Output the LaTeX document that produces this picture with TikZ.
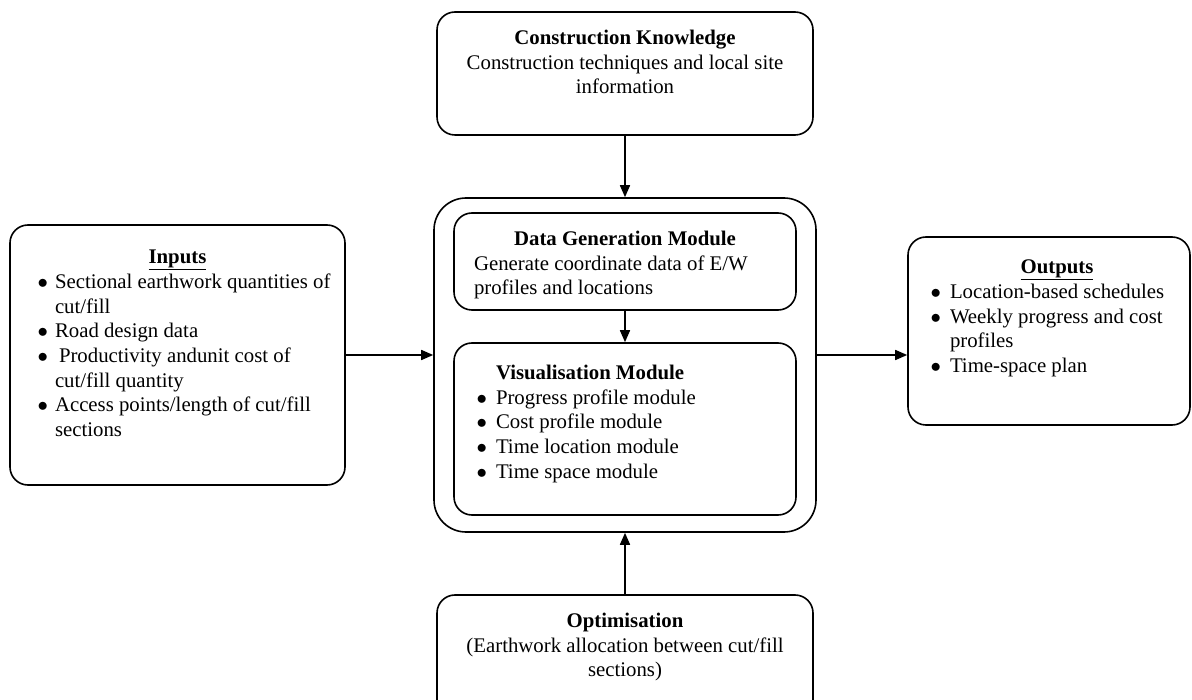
\documentclass[tikz,border=0pt]{standalone}
\usepackage{fontspec}
\setmainfont{Liberation Serif}
\usepackage{enumitem}
\usetikzlibrary{arrows.meta}
\setlist[itemize]{nosep,label=$\bullet$}
\newcommand{\inbox}[3]{\begin{minipage}[t][#2][t]{#1}#3\end{minipage}}

\begin{document}
\begin{tikzpicture}[x=1pt,y=-1pt,
  box/.style={draw,line width=1.6pt,rounded corners=18pt,inner xsep=0pt,
    font=\fontsize{20.8}{24.7}\selectfont},
  flow/.style={line width=1.6pt,-{Triangle[length=12pt,width=10pt]}}]
\useasboundingbox (0,0) rectangle (1192,700);

% outer frame and its two modules
\node[box,rounded corners=32pt,minimum width=382pt,minimum height=334pt] (outer) at (625,365) {};
\node[box,inner ysep=18pt] (dgm) at (625,261.5) {\inbox{342pt}{61pt}{%
  \centering\textbf{Data Generation Module}\par
  \raggedright\leftskip=20pt
  Generate coordinate data of E/W\\
  profiles and locations\par}};
\node[box,inner ysep=22pt] (vis) at (625,429) {\inbox{342pt}{128pt}{%
  \hspace*{42pt}\textbf{Visualisation Module}\par
  \begin{itemize}[leftmargin=42pt,labelsep=9pt]
  \item Progress profile module
  \item Cost profile module
  \item Time location module
  \item Time space module
  \end{itemize}}};

% boxes round it
\node[box,inner ysep=18pt] (ck) at (625,73.5) {\inbox{376pt}{87pt}{%
  \centering\textbf{Construction Knowledge}\\
  Construction techniques and local site\\
  information\par}};
\node[box,inner ysep=25pt] (inputs) at (177.5,355) {\inbox{335pt}{210pt}{%
  \centering\underline{\textbf{Inputs}}\par
  \begin{itemize}[leftmargin=45pt,labelsep=7pt]\raggedright
  \item Sectional earthwork quantities of\newline cut/fill
  \item Road design data
  \item \hspace{4pt}Productivity andunit cost of\newline cut/fill quantity
  \item Access points/length of cut/fill\newline sections
  \end{itemize}}};
\node[box,inner ysep=23pt] (outputs) at (1049,331) {\inbox{282pt}{142pt}{%
  \centering\hspace*{16pt}\underline{\textbf{Outputs}}\par
  \begin{itemize}[leftmargin=42pt,labelsep=9pt]\raggedright
  \item Location-based schedules
  \item Weekly progress and cost\newline profiles
  \item Time-space plan
  \end{itemize}}};
\node[box,inner ysep=18pt] (opt) at (625,660) {\inbox{376pt}{94pt}{%
  \centering\textbf{Optimisation}\\
  (Earthwork allocation between cut/fill\\
  sections)\par}};

\foreach \from/\to in {ck.south/outer.north,dgm.south/vis.north,opt.north/outer.south}
  \draw[flow] (\from) -- (\to);
\draw[flow] (inputs.east) -- (inputs.east -| outer.west);
\draw[flow] (outer.east |- inputs.east) -- (outputs.west |- inputs.east);
\end{tikzpicture}
\end{document}
